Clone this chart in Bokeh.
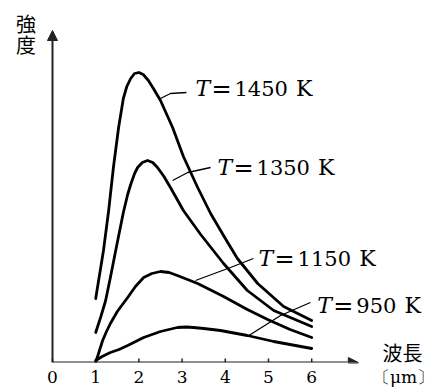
from bokeh.plotting import figure
from bokeh.models import Range1d, FixedTicker, Arrow, NormalHead, Label, ColumnDataSource
from bokeh.core.properties import value
from bokeh.embed import file_html
from bokeh.resources import INLINE

# ---- data (wavelength in µm, intensity in arbitrary units) ----
temps = ["1450", "1350", "1150", "950"]

wl_1450 = [1.0, 1.09, 1.18, 1.30, 1.41, 1.53, 1.64, 1.72, 1.81, 1.9, 2.0, 2.1, 2.22, 2.35, 2.5,
           2.78, 3.03, 3.36, 3.66, 4.0, 4.28, 4.75, 5.35, 6.0]
in_1450 = [64, 88, 112, 152, 195, 235, 264, 276, 284, 289, 290, 288, 282, 273, 262,
           235, 206, 175, 149, 124, 104, 79, 56, 42]

wl_1350 = [1.0, 1.12, 1.23, 1.34, 1.5, 1.64, 1.74, 1.81, 1.9, 1.97, 2.08, 2.2, 2.32, 2.43, 2.58,
           2.73, 3.03, 3.43, 3.96, 4.51, 5.12, 6.0]
in_1350 = [30, 46, 62, 85, 120, 150, 168, 178, 189, 195, 200, 202, 200, 195, 186,
           175, 152, 128, 99, 72, 52, 36]

wl_1150 = [1.0, 1.08, 1.16, 1.25, 1.34, 1.5, 1.74, 1.92, 2.11, 2.3, 2.5, 2.7, 2.89, 3.36, 3.96,
           4.51, 4.98, 5.5, 6.0]
in_1150 = [0, 11, 22, 31, 39, 51, 65, 76, 85, 89, 91, 90, 87, 79, 66,
           53, 43, 33, 25]

wl_950 = [1.0, 1.15, 1.34, 1.54, 1.74, 2.11, 2.5, 2.89, 3.1, 3.26, 3.5, 3.89, 4.51, 5.12, 6.0]
in_950 = [2, 6, 10, 13, 17, 25, 31, 35, 35.5, 35, 34, 32, 27, 21, 14]

x_ticks = [0, 1, 2, 3, 4, 5, 6]
unit_pos = 8.125
x_label = "波長"
x_unit = "〔μm〕"
y_label = ["強", "度"]

# label anchors (left edge of "T") and leader lines
label_x = [3.31, 3.82, 4.77, 6.13]
label_y = [274, 195, 104, 57]
leader_xs = [[2.50, 2.73, 3.10], [2.78, 3.13, 3.66], [3.31, 4.12, 4.65], [4.51, 5.28, 5.97]]
leader_ys = [[264, 269, 270], [182, 190, 195], [82, 95, 104], [26, 47, 60]]

# ---- figure ----
INK = "#222222"
p = figure(width=434, height=390, x_range=Range1d(-1.2037, 8.8426), y_range=Range1d(0, 362),
           output_backend="svg", toolbar_location=None,
           min_border_left=0, min_border_right=0, min_border_top=0, min_border_bottom=28)
p.outline_line_color = None
p.grid.visible = False
p.background_fill_color = "white"
p.border_fill_color = "white"
p.yaxis.visible = False

xa = p.xaxis[0]
xa.ticker = FixedTicker(ticks=x_ticks + [unit_pos])
xa.major_label_overrides = {unit_pos: x_unit}
xa.axis_line_color = None
xa.major_tick_line_color = None
xa.minor_tick_line_color = None
xa.major_tick_in = 0
xa.major_tick_out = 0
xa.major_label_text_font = "DejaVu Serif"
xa.major_label_text_font_size = "17px"
xa.major_label_text_color = "black"
xa.major_label_text_line_height = 0.8
xa.major_label_standoff = 4

# small inward tick marks
p.segment(x0=x_ticks, y0=[0] * len(x_ticks), x1=x_ticks, y1=[4] * len(x_ticks),
          line_color=INK, line_width=1.5)

# axes with arrow heads
p.add_layout(Arrow(x_start=0, y_start=0, x_end=0, y_end=332, line_color=INK, line_width=2,
                   end=NormalHead(size=10, fill_color=INK, line_color=INK)))
p.add_layout(Arrow(x_start=0, y_start=0, x_end=7.08, y_end=0, line_color=INK, line_width=2,
                   end=NormalHead(size=10, fill_color=INK, line_color=INK)))

# curves
for xs, ys in [(wl_1450, in_1450), (wl_1350, in_1350), (wl_1150, in_1150), (wl_950, in_950)]:
    p.line(xs, ys, line_color="black", line_width=2.8, line_join="round", line_cap="round")

# leader lines
p.multi_line(xs=leader_xs, ys=leader_ys, line_color="black", line_width=1.3)

# temperature labels: italic T, "=", number, K
src = ColumnDataSource(dict(x=label_x, y=label_y, num=temps,
                            k_off=[39 + 13.4 * len(t) + 8 for t in temps]))
common = dict(source=src, text_baseline="middle", text_align="left",
              text_font=value("DejaVu Serif"), text_color="black")
p.text(x="x", y="y", text=value("T"), text_font_style="italic", text_font_size="22px", **common)
p.text(x="x", y="y", text=value("="), x_offset=16, text_font_size="24px", **common)
p.text(x="x", y="y", text="num", x_offset=39, text_font_size="21px", **common)
p.text(x="x", y="y", text=value("K"), x_offset="k_off", text_font_size="22px", **common)

# axis titles
lab = dict(text_align="center", text_baseline="middle", text_font="Noto Sans CJK JP",
           text_font_size="20px", text_color="black")
p.add_layout(Label(x=-0.613, y=339.5, text=y_label[0], **lab))
p.add_layout(Label(x=-0.613, y=318, text=y_label[1], **lab))
p.add_layout(Label(x=8.1, y=10, text=x_label, **lab))

open("out.html", "w").write(file_html(p, INLINE))
